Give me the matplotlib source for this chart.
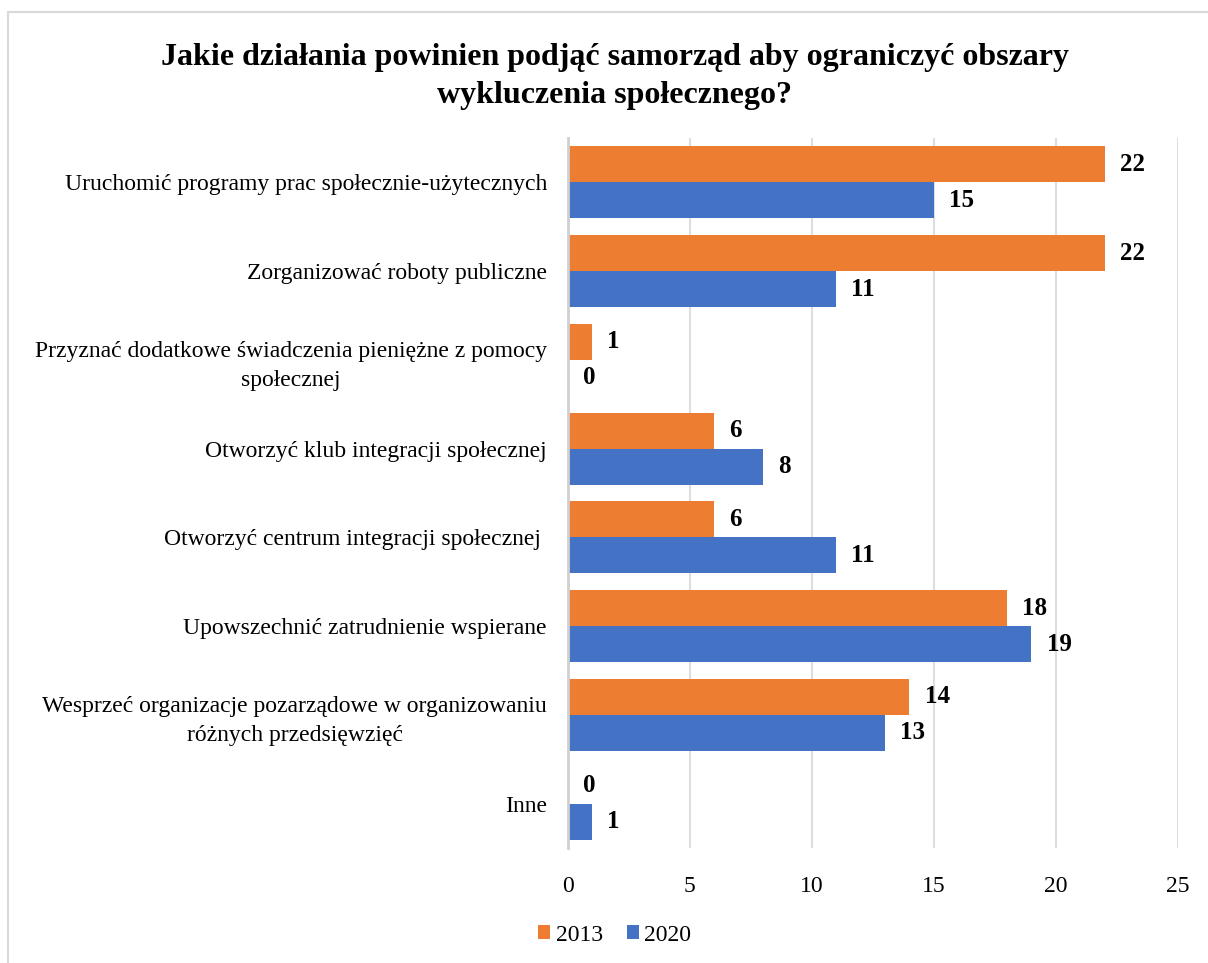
import matplotlib.pyplot as plt
from matplotlib.patches import Rectangle

categories = [
    "Uruchomić programy prac społecznie-użytecznych",
    "Zorganizować roboty publiczne",
    "Przyznać dodatkowe świadczenia pieniężne z pomocy\nspołecznej",
    "Otworzyć klub integracji społecznej",
    "Otworzyć centrum integracji społecznej ",
    "Upowszechnić zatrudnienie wspierane",
    "Wesprzeć organizacje pozarządowe w organizowaniu\nróżnych przedsięwzięć",
    "Inne",
]
values_2013 = [22, 22, 1, 6, 6, 18, 14, 0]
values_2020 = [15, 11, 0, 8, 11, 19, 13, 1]
x_ticks = [0, 5, 10, 15, 20, 25]

ORANGE = "#ED7D31"
BLUE = "#4472C4"

plt.rcParams["font.family"] = ["Liberation Serif", "DejaVu Serif"]

fig = plt.figure(figsize=(12.08, 9.63), dpi=100)
ax = fig.add_axes([0.470, 0.1194, 0.505, 0.7374])

# light frame around the chart area
fig.patches.append(Rectangle((8 / 1208, -0.1), 1.2, 1 - 12 / 963 + 0.1,
                             transform=fig.transFigure, fill=False,
                             edgecolor="#d9d9d9", linewidth=1.5))

h = 0.405
pos = list(range(len(categories)))
bars_a = ax.barh([p - h / 2 for p in pos], values_2013, height=h,
                 color=ORANGE, label="2013", zorder=3)
bars_b = ax.barh([p + h / 2 for p in pos], values_2020, height=h,
                 color=BLUE, label="2020", zorder=3)

for bars, vals in ((bars_a, values_2013), (bars_b, values_2020)):
    for b, v in zip(bars, vals):
        ax.annotate(str(v), (b.get_width(), b.get_y() + b.get_height() / 2),
                    xytext=(11, 0), textcoords="offset points",
                    ha="left", va="center", fontsize=18, fontweight="bold")

ax.set_xlim(0, 25)
ax.set_ylim(len(categories) - 0.5, -0.5)
ax.set_xticks(x_ticks)
ax.set_yticks(pos)
ax.set_yticklabels(categories, fontsize=17, multialignment="center",
                   linespacing=1.45)
ax.tick_params(axis="x", labelsize=17, length=0, pad=20)
ax.tick_params(axis="y", length=0, pad=15)
ax.grid(axis="x", color="#dedede", linewidth=1.5, zorder=0)
for s in ("top", "right", "bottom"):
    ax.spines[s].set_visible(False)
ax.spines["left"].set_color("#d0d0d0")
ax.spines["left"].set_linewidth(2)
ax.spines["left"].set_zorder(4)

fig.text(0.509, 0.955,
         "Jakie działania powinien podjąć samorząd aby ograniczyć obszary\nwykluczenia społecznego?",
         ha="center", va="top", fontsize=23, fontweight="bold", linespacing=1.38)

fig.legend(loc="lower center", bbox_to_anchor=(0.509, -0.004), ncol=2,
           frameon=False, fontsize=17, handlelength=0.5, handleheight=0.5,
           handletextpad=0.25, columnspacing=1.0)

fig.savefig("out.png", dpi=100)
